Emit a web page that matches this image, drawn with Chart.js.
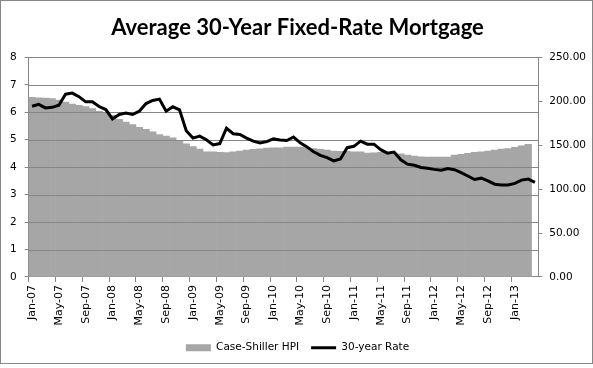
<!DOCTYPE html>
<html>
<head>
<meta charset="utf-8">
<script src="https://cdn.jsdelivr.net/npm/chart.js@4.4.1/dist/chart.umd.min.js"></script>
<style>
  body { margin: 0; background: #fff; }
  #wrap { position: relative; width: 593px; height: 368px; }
  #frame { position: absolute; left: 0; top: 0; width: 593px; height: 364px; box-sizing: border-box; border: 1px solid #868686; pointer-events: none; }
</style>
</head>
<body>
<div id="wrap">
  <canvas id="mycanvas" width="593" height="368"></canvas>
  <div id="frame"></div>
</div>
<script>
// months Jan-07 .. Apr-13
var monthNames = ['Jan','Feb','Mar','Apr','May','Jun','Jul','Aug','Sep','Oct','Nov','Dec'];
var years = ['07','08','09','10','11','12','13'];
var lastMonthCount = 4; // 2013 runs to Apr

// 30-year fixed rate, % (left axis)
var rate = [
  6.22, 6.29, 6.16, 6.18, 6.26, 6.66, 6.70, 6.57, 6.38, 6.38, 6.21, 6.10,
  5.76, 5.92, 5.97, 5.92, 6.04, 6.32, 6.43, 6.48, 6.04, 6.20, 6.09, 5.33,
  5.06, 5.13, 5.00, 4.81, 4.86, 5.42, 5.22, 5.19, 5.06, 4.95, 4.88, 4.93,
  5.03, 4.99, 4.97, 5.10, 4.89, 4.74, 4.56, 4.43, 4.35, 4.23, 4.30, 4.71,
  4.76, 4.95, 4.84, 4.84, 4.64, 4.51, 4.55, 4.27, 4.11, 4.07, 3.99, 3.96,
  3.92, 3.89, 3.95, 3.91, 3.80, 3.68, 3.55, 3.60, 3.50, 3.38, 3.35, 3.35,
  3.41, 3.53, 3.57, 3.45
];

// Case-Shiller HPI (right axis), last month not reported yet
var hpi = [
  204.4, 204.0, 203.6, 203.0, 201.4, 199.0, 196.8, 195.4, 193.9, 191.6, 188.6, 186.3,
  184.0, 179.5, 176.5, 173.5, 170.5, 168.2, 165.2, 162.2, 160.3, 158.4, 154.6, 151.6,
  148.6, 145.6, 142.5, 142.5, 141.8, 141.5, 142.5, 143.3, 144.4, 145.2, 146.0, 146.7,
  147.0, 147.0, 147.8, 147.8, 147.8, 147.0, 146.3, 145.2, 144.4, 143.3, 143.0, 143.0,
  142.6, 142.6, 141.0, 141.4, 141.8, 141.8, 141.0, 140.3, 138.8, 137.6, 136.9, 136.5,
  136.5, 136.5, 136.5, 138.8, 139.6, 140.7, 141.8, 142.5, 143.3, 144.4, 145.6, 146.3,
  147.5, 149.3, 150.9, null
];

var labels = [];
for (var y = 0; y < years.length; y++) {
  var n = (y === years.length - 1) ? lastMonthCount : 12;
  for (var m = 0; m < n; m++) {
    labels.push(monthNames[m] + '-' + years[y]);
  }
}

var axisColor = '#868686';
var tickFont = { family: 'DejaVu Sans', size: 10.5 };

// grid lines sit above the bars but below the line
var gridOverBars = {
  id: 'gridOverBars',
  afterDatasetDraw: function(chart, args) {
    if (args.meta.type !== 'bar') return;
    var ctx = chart.ctx;
    var area = chart.chartArea;
    var scale = chart.scales.y;
    ctx.save();
    ctx.strokeStyle = axisColor;
    ctx.lineWidth = 1;
    scale.ticks.forEach(function(t) {
      if (t.value === 0) return;
      var py = Math.round(scale.getPixelForValue(t.value)) + 0.5;
      ctx.beginPath();
      ctx.moveTo(area.left, py);
      ctx.lineTo(area.right, py);
      ctx.stroke();
    });
    ctx.restore();
  }
};

var chartdata = {
  labels: labels,
  datasets: [
    {
      type: 'line',
      label: '30-year Rate',
      data: rate,
      yAxisID: 'y',
      borderColor: '#000000',
      backgroundColor: '#000000',
      borderWidth: 3,
      pointRadius: 0,
      pointStyle: 'line',
      tension: 0,
      order: 0
    },
    {
      type: 'bar',
      label: 'Case-Shiller HPI',
      data: hpi,
      yAxisID: 'y2',
      backgroundColor: '#A6A6A6',
      borderWidth: 0,
      barPercentage: 1.0,
      categoryPercentage: 1.0,
      pointStyle: 'rect',
      order: 1
    }
  ]
};

var ctx = document.getElementById('mycanvas');

var mixedChart = new Chart(ctx, {
  data: chartdata,
  plugins: [gridOverBars],
  options: {
    responsive: false,
    animation: false,
    devicePixelRatio: 1,
    layout: { padding: { left: 2, right: 0, top: 0, bottom: 5 } },
    plugins: {
      title: {
        display: true,
        text: 'Average 30-Year Fixed-Rate Mortgage',
        color: '#000',
        font: { family: 'Lato', size: 22, weight: 'bold' },
        padding: { top: 15, bottom: 16 }
      },
      legend: {
        position: 'bottom',
        reverse: true,
        labels: {
          color: '#000',
          font: tickFont,
          usePointStyle: true,
          pointStyleWidth: 25,
          boxHeight: 7,
          padding: 12
        }
      },
      tooltip: { enabled: false }
    },
    scales: {
      x: {
        offset: true,
        afterFit: function(s) { s.height += 2; },
        grid: {
          offset: true,
          drawOnChartArea: false,
          drawTicks: true,
          tickLength: 5,
          color: function(c) { return c.index % 4 === 0 ? axisColor : 'rgba(0,0,0,0)'; }
        },
        border: { display: true, color: axisColor },
        ticks: {
          autoSkip: false,
          maxRotation: 90,
          minRotation: 90,
          padding: 3,
          color: '#000',
          font: { family: 'DejaVu Sans', size: 11 },
          callback: function(v, i) { return i % 4 === 0 ? labels[i] : ''; }
        }
      },
      y: {
        position: 'left',
        min: 0,
        max: 8,
        grid: { drawOnChartArea: false, tickLength: 4, color: axisColor },
        border: { display: true, color: axisColor },
        ticks: { stepSize: 1, padding: 8, color: '#000', font: tickFont }
      },
      y2: {
        position: 'right',
        min: 0,
        max: 250,
        grid: { drawOnChartArea: false, tickLength: 4, color: axisColor },
        border: { display: true, color: axisColor },
        ticks: {
          stepSize: 50,
          padding: 7,
          color: '#000',
          font: tickFont,
          callback: function(v) { return v.toFixed(2); }
        }
      }
    }
  }
});
</script>
</body>
</html>
